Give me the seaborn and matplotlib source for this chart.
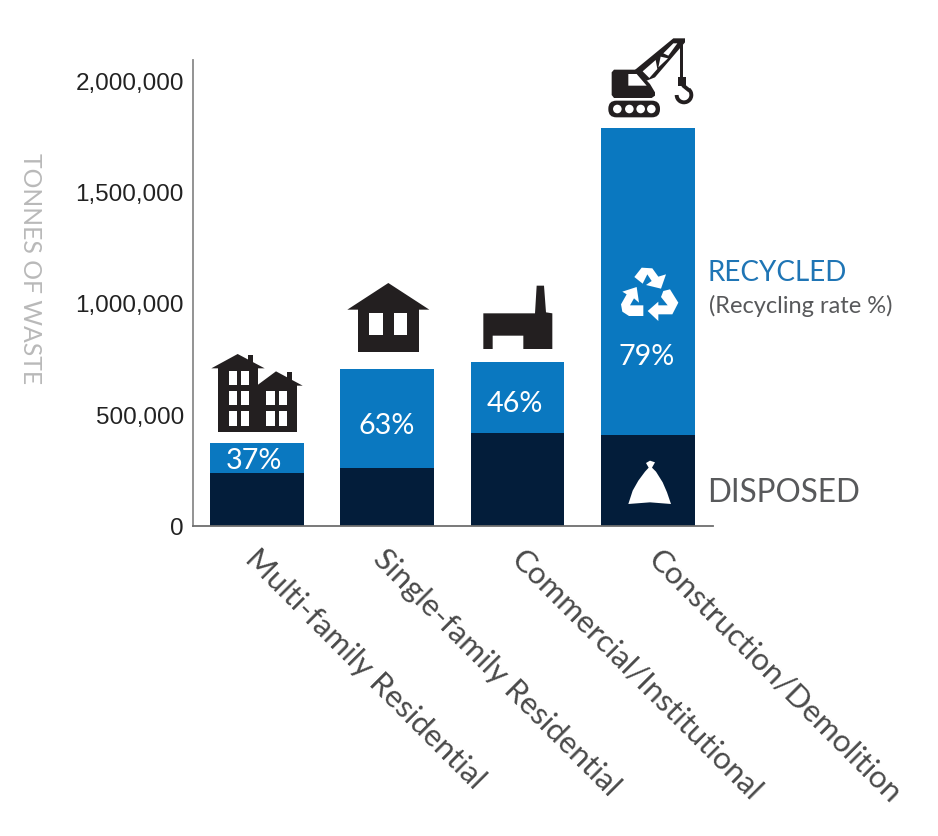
import pandas as pd
import matplotlib.pyplot as plt
import seaborn as sns
from matplotlib.patches import Polygon, Rectangle, Circle, FancyBboxPatch, Arc
from matplotlib.ticker import FuncFormatter
from matplotlib.transforms import ScaledTranslation

# === DATA ===
categories = ["Multi-family Residential", "Single-family Residential",
              "Commercial/Institutional", "Construction/Demolition"]
disposed = [236000, 258000, 416000, 407000]
recycled = [134000, 445000, 318000, 1379000]
rates = ["37%", "63%", "46%", "79%"]
y_ticks = [0, 500000, 1000000, 1500000, 2000000]

BLUE = "#0a78c0"
NAVY = "#031d3a"
ICON = "#231f20"
W, H = 938, 837

sns.set_style("white")
plt.rcParams['font.family'] = ['Lato', 'DejaVu Sans']

df = pd.DataFrame({"category": categories, "disposed": disposed, "recycled": recycled})
df["total"] = df["disposed"] + df["recycled"]

fig = plt.figure(figsize=(W / 100, H / 100), dpi=100, facecolor="white")
ax = fig.add_axes([193 / W, 1 - 526.5 / H, 520 / W, 466 / H])

sns.barplot(data=df, x="category", y="total", color=BLUE, saturation=1, width=0.72, linewidth=0, ax=ax)
sns.barplot(data=df, x="category", y="disposed", color=NAVY, saturation=1, width=0.72, linewidth=0, ax=ax)

ax.set_xlim(-0.491, 3.5)
ax.set_ylim(0, 2094000)
ax.set_yticks(y_ticks)
ax.yaxis.set_major_formatter(FuncFormatter(lambda v, _: f"{int(v):,}"))
ax.tick_params(axis="y", length=0, pad=6.5)
ax.tick_params(axis="x", length=0, pad=12)
for lab in ax.get_yticklabels():
    lab.set_fontfamily("Liberation Sans")
    lab.set_fontsize(17.5)
    lab.set_color("#222222")
ax.set_xlabel("")
ax.set_ylabel("TONNES OF WASTE", rotation=-90, fontsize=17.8, color="#b9b9b9", ha="center", va="center")
ax.yaxis.set_label_coords(-0.312, 0.554)
# labels in the original do not sit evenly under the bars
label_shift = [(-7, -11), (-9, -11), (-2, -11), (5, -11)]
for lab, (dx, dy) in zip(ax.get_xticklabels(), label_shift):
    lab.set_rotation(-45)
    lab.set_ha("left")
    lab.set_va("center")
    lab.set_rotation_mode("anchor")
    lab.set_fontsize(22.5)
    lab.set_color("#4a4a4a")
    lab.set_transform(lab.get_transform() + ScaledTranslation(dx / 100, dy / 100, fig.dpi_scale_trans))
sns.despine(ax=ax)
ax.spines["left"].set_color("#8a8a8a")
ax.spines["bottom"].set_color("#6e6e6e")
ax.spines["left"].set_linewidth(1.3)
ax.spines["bottom"].set_linewidth(1.3)

# === OVERLAY (pixel coordinates) ===
ov = fig.add_axes([0, 0, 1, 1], facecolor="none")
ov.set_xlim(0, W)
ov.set_ylim(H, 0)
ov.axis("off")


def crop(ox, oy, pts):
    return [(ox + x / 3, oy + y / 3) for x, y in pts]


def poly(ox, oy, pts, color=ICON):
    ov.add_patch(Polygon(crop(ox, oy, pts), closed=True, fc=color, ec="none"))


def box(ox, oy, x0, y0, x1, y1, color=ICON):
    ov.add_patch(Rectangle((ox + x0 / 3, oy + y0 / 3), (x1 - x0) / 3, (y1 - y0) / 3, fc=color, ec="none"))


# apartment blocks
ox, oy = 190, 270
box(ox, oy, 175, 258, 190, 290)
box(ox, oy, 290, 310, 305, 340)
poly(ox, oy, [(64, 298), (143, 255), (224, 298)])
poly(ox, oy, [(200, 350), (258, 307), (338, 350)])
box(ox, oy, 84, 296, 205, 490)
box(ox, oy, 205, 348, 320, 490)
for wx in [(116, 140), (154, 178)]:
    for wy in [(305, 349), (365, 409), (426, 470)]:
        box(ox, oy, wx[0], wy[0], wx[1], wy[1], "white")
for wx in [(229, 255), (268, 292)]:
    for wy in [(365, 409), (426, 470)]:
        box(ox, oy, wx[0], wy[0], wx[1], wy[1], "white")

# house
poly(ox, oy, [(472, 122), (595, 42), (718, 122)])
box(ox, oy, 505, 120, 687, 248)
box(ox, oy, 538, 133, 578, 197, "white")
box(ox, oy, 612, 133, 652, 197, "white")

# factory
poly(ox, oy, [(880, 133), (1035, 133), (1040, 50), (1062, 50), (1068, 130), (1087, 133),
              (1087, 240), (1000, 240), (1000, 200), (908, 200), (908, 240), (880, 240)])

# crane body and tracks
ox, oy = 590, 30
poly(ox, oy, [(72, 122), (140, 122), (180, 165), (195, 190), (195, 200), (185, 207), (72, 207), (65, 198), (65, 130)])
poly(ox, oy, [(115, 135), (140, 135), (170, 170), (115, 170)], "white")
ov.add_patch(FancyBboxPatch((ox + 55 / 3, oy + 215 / 3), 155 / 3, 50 / 3,
                            boxstyle="round,pad=0,rounding_size=8", mutation_scale=1,
                            fc=ICON, ec="none"))
for cx in [82, 118, 152, 184]:
    ov.add_patch(Circle((ox + cx / 3, oy + 240 / 3), 4.3, fc="white", ec="none"))

# crane boom and hook
ox, oy = 640, 35
poly(ox, oy, [(100, 13), (135, 13), (135, 25), (45, 130), (20, 140), (-18, 110)])
poly(ox, oy, [(112, 28), (100, 28), (70, 58), (85, 65)], "white")
poly(ox, oy, [(62, 68), (84, 73), (55, 100)], "white")
poly(ox, oy, [(47, 78), (52, 105), (28, 132), (8, 112)], "white")
box(ox, oy, 121, 20, 129, 132)
box(ox, oy, 113, 130, 137, 155)
ov.add_patch(Arc((ox + 132 / 3, oy + 183 / 3), 44 / 3, 44 / 3, theta1=-50, theta2=180, color=ICON, lw=2.8))
ov.plot([ox + 130 / 3, ox + 146 / 3], [oy + 155 / 3, oy + 168 / 3], color=ICON, lw=2.8)

# recycling arrows
ox, oy = 615, 262
poly(ox, oy, [(58, 48), (80, 20), (112, 22), (130, 47), (153, 40), (138, 83), (93, 72), (110, 60), (97, 40), (83, 68)], "white")
poly(ox, oy, [(18, 130), (35, 100), (22, 92), (65, 78), (72, 125), (57, 112), (45, 133), (85, 133), (85, 165), (42, 165), (22, 152)], "white")
poly(ox, oy, [(145, 90), (165, 85), (190, 125), (172, 160), (130, 160), (130, 180), (98, 150), (130, 122), (130, 133), (158, 133), (138, 108)], "white")

# bag
ox, oy = 590, 250
poly(ox, oy, [(115, 765), (128, 725), (145, 695), (165, 668), (176, 656), (168, 642), (180, 635),
              (195, 640), (186, 656), (198, 668), (218, 700), (231, 730), (243, 765), (180, 760)], "white")

# percent labels
pct_pos = [(254, 461), (387, 425.5), (515, 404), (647, 356.5)]
for rate, (px, py) in zip(rates, pct_pos):
    ov.text(px, py, rate, color="white", fontsize=20.7, ha="center", va="center")

# side labels
ov.text(708, 273, "RECYCLED", color="#1f75b5", fontsize=20, ha="left", va="center")
ov.text(709, 306, "(Recycling rate %)", color="#58595b", fontsize=17, ha="left", va="center")
ov.text(707.5, 492.5, "DISPOSED", color="#58595b", fontsize=22.7, ha="left", va="center")

plt.savefig("out.png", dpi=100)
plt.close()
